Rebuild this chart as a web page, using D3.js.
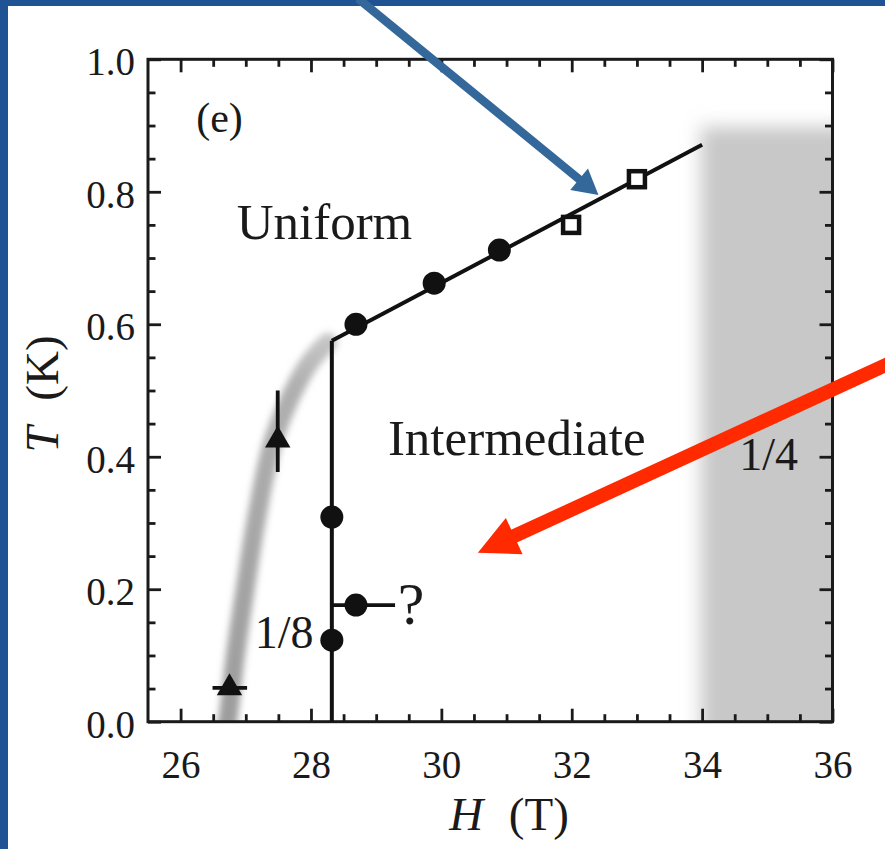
<!DOCTYPE html>
<html lang="en">
<head>
  <meta charset="UTF-8">
  <title>Phase diagram T vs H</title>
  <style>
    body {
      margin: 0;
      background: #1f5394;
    }
    svg {
      display: block;
    }
    text {
      font-family: "Liberation Serif", "Times New Roman", serif;
      fill: #1a1a1a;
    }
    .tick line {
      stroke: #1a1a1a;
      stroke-width: 2.8px;
    }
  </style>
</head>
<body>
  <svg width="885" height="849"></svg>
  <script src="https://d3js.org/d3.v7.min.js"></script>
  <script>
    // phase boundary points (H in tesla, T in kelvin)
    const circH = [28.69, 29.89, 30.89];
    const circT = [0.600, 0.662, 0.712];
    const squareH = [31.99, 33.0];
    const squareT = [0.750, 0.819];
    const lowCircH = [28.32, 28.32];
    const lowCircT = [0.309, 0.123];
    const qH = [28.69];
    const qT = [0.176];
    const qErrH = [28.32, 29.29];
    const triH = [27.49, 26.75];
    const triT = [0.425, 0.051];
    const triErrT = [0.377, 0.500];
    const triErrH = [26.49, 27.02];
    const upperLineH = [28.32, 34.0];
    const upperLineT = [0.575, 0.871];
    const vertLineH = [28.32, 28.32];
    const vertLineT = [0.0, 0.575];
    const bandH = [26.72, 26.84, 26.99, 27.17, 27.44, 27.93, 28.26];
    const bandT = [0.00, 0.10, 0.20, 0.31, 0.43, 0.535, 0.573];
    const quarterH = [33.98, 36.5];
    const quarterT = [-0.1, 0.898];
    const xTicks = [26, 28, 30, 32, 34, 36];
    const yTicks = [0, 0.2, 0.4, 0.6, 0.8, 1.0];

    const svg = d3.select("svg");
    const x = d3.scaleLinear().domain([25.5, 36]).range([148, 832.5]);
    const y = d3.scaleLinear().domain([0, 1]).range([721.7, 59.3]);

    // white slide panel
    svg.append("rect")
      .attr("x", 8).attr("y", 6)
      .attr("width", 885).attr("height", 849)
      .attr("fill", "#fff");

    const defs = svg.append("defs");
    defs.append("clipPath").attr("id", "plot")
      .append("rect")
      .attr("x", x(25.5)).attr("y", y(1))
      .attr("width", x(36) - x(25.5)).attr("height", y(0) - y(1));
    defs.append("filter").attr("id", "soft")
      .attr("x", "-30%").attr("y", "-20%").attr("width", "160%").attr("height", "140%")
      .append("feGaussianBlur").attr("stdDeviation", 9);
    defs.append("filter").attr("id", "softBand")
      .attr("x", "-50%").attr("y", "-10%").attr("width", "200%").attr("height", "120%")
      .append("feGaussianBlur").attr("stdDeviation", 3.5);
    const bandGrad = defs.append("linearGradient").attr("id", "bandGrad")
      .attr("gradientUnits", "userSpaceOnUse")
      .attr("x1", 0).attr("x2", 0).attr("y1", y(0.6)).attr("y2", y(0));
    bandGrad.append("stop").attr("offset", 0).attr("stop-color", "#cdcdcd");
    bandGrad.append("stop").attr("offset", 0.15).attr("stop-color", "#b0b0b0");
    bandGrad.append("stop").attr("offset", 1).attr("stop-color", "#9c9c9c");

    const plot = svg.append("g").attr("clip-path", "url(#plot)");

    // 1/4 plateau shading
    plot.append("rect")
      .attr("x", x(quarterH[0])).attr("y", y(quarterT[1]))
      .attr("width", x(quarterH[1]) - x(quarterH[0]))
      .attr("height", y(quarterT[0]) - y(quarterT[1]))
      .attr("fill", "#c8c8c8")
      .attr("filter", "url(#soft)");

    // grey crossover band
    const band = d3.zip(bandH, bandT);
    plot.append("path")
      .attr("d", d3.line().x(d => x(d[0])).y(d => y(d[1])).curve(d3.curveCatmullRom)([[26.62, -0.05], ...band]))
      .attr("fill", "none")
      .attr("stroke", "url(#bandGrad)")
      .attr("stroke-width", 19)
      .attr("stroke-linecap", "round")
      .attr("filter", "url(#softBand)");

    // axes: ticks inward on all four sides
    function ticks(axis, g, size, values, labels) {
      g.call(axis.tickValues(values).tickSize(size)
        .tickFormat(labels ? d3.format(".0f") : ""));
      g.select(".domain").remove();
    }
    const minorX = d3.range(26, 36, 0.5).filter(v => v % 2 !== 0);
    const minorY = d3.range(0.05, 1, 0.05).filter(v => Math.abs(v * 5 - Math.round(v * 5)) > 1e-6);

    const gb = svg.append("g").attr("transform", `translate(0,${y(0)})`);
    ticks(d3.axisBottom(x).tickPadding(29), gb.append("g"), -13, xTicks, true);
    ticks(d3.axisBottom(x), gb.append("g"), -7.5, minorX, false);
    const gt = svg.append("g").attr("transform", `translate(0,${y(1)})`);
    ticks(d3.axisTop(x), gt.append("g"), -13, xTicks, false);
    ticks(d3.axisTop(x), gt.append("g"), -7.5, minorX, false);

    const gl = svg.append("g").attr("transform", `translate(${x(25.5)},0)`);
    const yLab = gl.append("g");
    yLab.call(d3.axisLeft(y).tickValues(yTicks).tickSize(-13).tickPadding(13).tickFormat(d3.format(".1f")));
    yLab.select(".domain").remove();
    yLab.selectAll("text").attr("dy", "0.4em");
    ticks(d3.axisLeft(y), gl.append("g"), -7.5, minorY, false);
    const gr = svg.append("g").attr("transform", `translate(${x(36)},0)`);
    ticks(d3.axisRight(y), gr.append("g"), -13, yTicks, false);
    ticks(d3.axisRight(y), gr.append("g"), -7.5, minorY, false);
    svg.selectAll(".tick text").style("font-size", "39px").attr("fill", "#1a1a1a");

    svg.append("rect")
      .attr("x", x(25.5)).attr("y", y(1))
      .attr("width", x(36) - x(25.5)).attr("height", y(0) - y(1))
      .attr("fill", "none").attr("stroke", "#1a1a1a").attr("stroke-width", 3);

    // boundary lines
    const line = d3.line().x(d => x(d[0])).y(d => y(d[1]));
    [d3.zip(upperLineH, upperLineT), d3.zip(vertLineH, vertLineT)].forEach(pts => {
      svg.append("path").attr("d", line(pts))
        .attr("fill", "none").attr("stroke", "#111").attr("stroke-width", 4);
    });

    // error bars
    const err = svg.append("g").attr("stroke", "#111").attr("stroke-width", 3.8);
    err.append("line")
      .attr("x1", x(qErrH[0])).attr("x2", x(qErrH[1]))
      .attr("y1", y(qT[0])).attr("y2", y(qT[0]));
    err.append("line")
      .attr("x1", x(triH[0])).attr("x2", x(triH[0]))
      .attr("y1", y(triErrT[0])).attr("y2", y(triErrT[1]));
    err.append("line")
      .attr("x1", x(triErrH[0])).attr("x2", x(triErrH[1]))
      .attr("y1", y(triT[1])).attr("y2", y(triT[1]));

    // markers
    const dots = d3.zip(circH.concat(lowCircH, qH), circT.concat(lowCircT, qT));
    svg.append("g").selectAll("circle").data(dots).join("circle")
      .attr("cx", d => x(d[0])).attr("cy", d => y(d[1]))
      .attr("r", 11.5).attr("fill", "#111");

    svg.append("g").selectAll("rect").data(d3.zip(squareH, squareT)).join("rect")
      .attr("x", d => x(d[0]) - 8).attr("y", d => y(d[1]) - 8)
      .attr("width", 16).attr("height", 16)
      .attr("fill", "#fff").attr("stroke", "#111").attr("stroke-width", 4.5);

    svg.append("g").selectAll("path").data(d3.zip(triH, triT)).join("path")
      .attr("transform", d => `translate(${x(d[0])},${y(d[1])})`)
      .attr("d", d3.symbol(d3.symbolTriangle, 280))
      .attr("fill", "#111");

    // labels
    const label = (txt, h, t, size, anchor) => svg.append("text")
      .attr("x", x(h)).attr("y", y(t))
      .attr("text-anchor", anchor || "start")
      .style("font-size", size + "px")
      .text(txt);
    label("(e)", 26.24, 0.89, 42);
    label("Uniform", 26.86, 0.728, 51);
    label("Intermediate", 29.18, 0.402, 51);
    label("1/4", 34.57, 0.38, 46);
    label("1/8", 28.04, 0.112, 46, "end");
    label("?", 29.33, 0.148, 60);

    // axis titles
    const xt = svg.append("text")
      .attr("x", 509).attr("y", 830)
      .attr("text-anchor", "middle")
      .style("font-size", "47px");
    xt.append("tspan").attr("font-style", "italic").text("H");
    xt.append("tspan").attr("dx", 14).text(" (T)");

    const yt = svg.append("text")
      .attr("transform", "translate(58,394) rotate(-90)")
      .attr("text-anchor", "middle")
      .style("font-size", "47px");
    yt.append("tspan").attr("font-style", "italic").text("T");
    yt.append("tspan").attr("dx", 14).text(" (K)");

    // slide annotation arrows
    const arrows = [
      { from: [28.72, 1.092], to: [32.41, 0.795], color: "#34679a", w: 8.5, len: 25, head: 28 },
      { from: [36.85, 0.540], to: [30.56, 0.255], color: "#ff2a00", w: 14, len: 40, head: 40 }
    ];
    arrows.forEach(a => {
      const x0 = x(a.from[0]), y0 = y(a.from[1]), x1 = x(a.to[0]), y1 = y(a.to[1]);
      const dx = x1 - x0, dy = y1 - y0, n = Math.hypot(dx, dy);
      const ux = dx / n, uy = dy / n, bx = x1 - ux * a.len, by = y1 - uy * a.len;
      svg.append("line")
        .attr("x1", x0).attr("y1", y0).attr("x2", bx + ux * 2).attr("y2", by + uy * 2)
        .attr("stroke", a.color).attr("stroke-width", a.w);
      svg.append("polygon")
        .attr("points", [[x1, y1], [bx - uy * a.head / 2, by + ux * a.head / 2], [bx + uy * a.head / 2, by - ux * a.head / 2]].join(" "))
        .attr("fill", a.color);
    });
  </script>
</body>
</html>
